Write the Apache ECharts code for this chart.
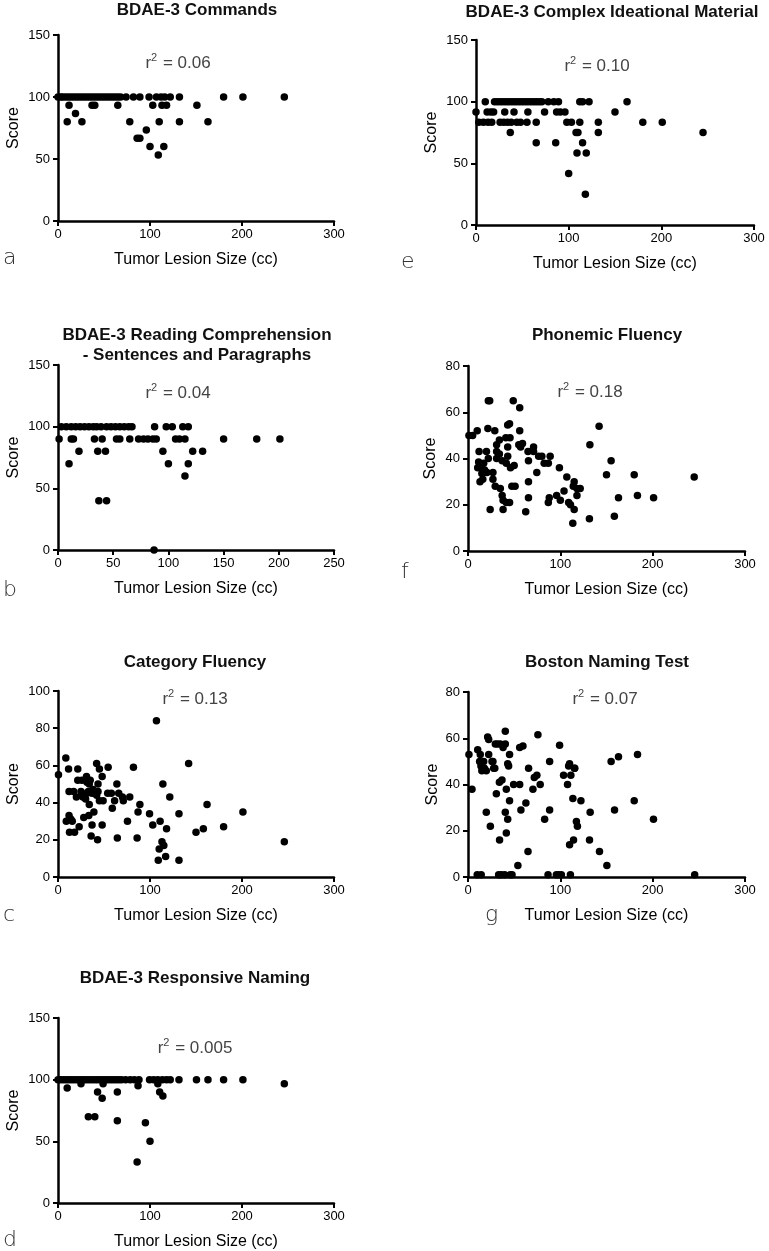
<!DOCTYPE html>
<html>
<head>
<meta charset="utf-8">
<title>Tumor lesion size vs language scores</title>
<script src="https://cdn.jsdelivr.net/npm/echarts@6/dist/echarts.min.js"></script>
<style>
  html, body { margin: 0; padding: 0; background: #fff; }
  #chart { width: 769px; height: 1251px; }
</style>
</head>
<body>
<div id="chart"></div>
<script>
// a - BDAE-3 Commands
const cmdSize = [0, 3, 5, 8, 11, 14, 17, 20, 23, 26, 29, 32, 35, 38, 41, 44, 47, 50, 53, 56, 59, 62, 65, 68,
  74, 82, 89, 99, 107, 112, 116, 122, 132, 180, 201, 246,
  12, 37, 40, 65, 103, 113, 118, 151,
  19,
  10, 26, 78, 110, 132, 163,
  96, 86, 89, 100, 115, 109];
const cmdScore = [100, 100, 100, 100, 100, 100, 100, 100, 100, 100, 100, 100, 100, 100, 100, 100, 100, 100, 100, 100, 100, 100, 100, 100,
  100, 100, 100, 100, 100, 100, 100, 100, 100, 100, 100, 100,
  93.3, 93.3, 93.3, 93.3, 93.3, 93.3, 93.3, 93.3,
  86.7,
  80, 80, 80, 80, 80, 80,
  73.3, 66.7, 66.7, 60, 60, 53.3];

// e - BDAE-3 Complex Ideational Material
const cimSize = [10, 20, 23, 26, 29, 32, 35, 38, 41, 44, 47, 50, 53, 56, 59, 62, 65, 68, 71, 78, 84, 89, 112, 115, 122, 163,
  0, 12, 16, 19, 31, 41, 56, 74, 87, 91, 96, 150,
  3, 8, 13, 17, 26, 30, 34, 38, 44, 48, 55, 65, 98, 103, 112, 132, 180, 201,
  37, 108, 110, 132, 245,
  65, 86, 115,
  109, 119,
  100, 118];
const cimScore = [100, 100, 100, 100, 100, 100, 100, 100, 100, 100, 100, 100, 100, 100, 100, 100, 100, 100, 100, 100, 100, 100, 100, 100, 100, 100,
  91.7, 91.7, 91.7, 91.7, 91.7, 91.7, 91.7, 91.7, 91.7, 91.7, 91.7, 91.7,
  83.3, 83.3, 83.3, 83.3, 83.3, 83.3, 83.3, 83.3, 83.3, 83.3, 83.3, 83.3, 83.3, 83.3, 83.3, 83.3, 83.3, 83.3,
  75, 75, 75, 75, 75,
  66.7, 66.7, 66.7,
  58.3, 58.3,
  41.7, 25];

// b - BDAE-3 Reading Comprehension
const readSize = [3, 7.5, 12, 16, 20, 24, 28, 32, 35, 39, 44, 48, 52, 56, 60, 64, 67, 87.5, 98, 103.5, 113, 118,
  1, 12, 14, 33, 40, 53, 56, 65, 73, 77.5, 81.5, 86, 89, 106.5, 110, 115, 150, 180, 201,
  19, 36, 43, 95, 122, 131,
  10, 100, 118,
  115,
  37, 44,
  87];
const readScore = [100, 100, 100, 100, 100, 100, 100, 100, 100, 100, 100, 100, 100, 100, 100, 100, 100, 100, 100, 100, 100, 100,
  90, 90, 90, 90, 90, 90, 90, 90, 90, 90, 90, 90, 90, 90, 90, 90, 90, 90, 90,
  80, 80, 80, 80, 80, 80,
  70, 70, 70,
  60,
  40, 40,
  0];

// f - Phonemic Fluency
const phonSize = [1, 5, 10, 22, 23.5, 21.5, 29, 49, 56, 56, 43, 45,
  31, 34, 41, 45.5, 55, 59, 57, 43,
  12, 20, 31, 34, 22, 31, 37, 43, 41.5, 46, 50,
  11.5, 17, 10.5, 15, 20.5, 27, 13, 27, 29.5, 35, 37, 41.5, 45, 47.5, 51, 24, 38, 62.5,
  65, 71, 71, 76.5, 80, 65.5, 74.5, 65.5, 65.5, 82.5, 87, 89,
  87, 88, 96, 100, 99, 104, 107, 109, 111, 115, 114, 115, 113.5, 118, 121.5, 118,
  131.5, 132, 142, 155, 150, 158.5, 163, 180, 183.5, 201, 245,
  18, 14, 38, 16];
const phonScore = [50, 50, 52, 65, 65, 53, 52, 65, 62, 52, 54.5, 55,
  46, 48, 49, 49, 46, 46.5, 45, 45,
  43, 43, 43, 42, 40, 40, 39, 41, 38, 36, 37,
  38.5, 38, 36, 33.5, 34, 34, 30, 31, 28, 27, 24, 21, 21, 28, 28, 18, 18, 17,
  43, 45, 43, 41, 41, 39, 34, 30, 23, 38, 38, 41,
  21, 23, 24, 22, 36, 26, 32, 21, 20, 30, 28, 18, 12, 24, 27, 27,
  14, 46, 54, 39, 33, 15, 23, 33, 24, 23, 32,
  35, 37, 22, 31];

// c - Category Fluency
const catSize = [0.5, 8.5, 11.5, 21.5, 21.5, 12, 17, 20, 25, 27, 30, 31.5,
  31, 31.5, 35, 34, 28, 33.5, 39, 34, 37, 42, 43.5,
  42, 45, 48, 54.5, 43.5, 37, 36, 43, 48, 45, 49, 54, 58, 59,
  61.5, 64, 66, 70, 71, 78, 64.5, 75.5, 82, 89, 87, 86,
  99.5, 103, 111, 118, 107, 114, 121.5, 113, 115, 110, 117, 109, 131.5, 131.5,
  142, 150, 158, 162, 180, 201, 246,
  12, 9, 15.5, 12.5, 18, 23, 14, 26, 38, 40, 33];
const catScore = [55, 64, 58, 58, 52, 46, 46, 43, 46, 43, 42, 45,
  54, 51, 52, 50, 32, 33, 35, 39, 45, 44, 46,
  61, 58, 54, 59, 50, 28, 22, 20, 28, 41, 41, 45, 45, 37,
  41, 50, 45, 43, 41, 43, 21, 30, 59, 39, 35, 21,
  34, 28, 30, 26, 84, 50, 43, 19, 17, 15, 11, 9, 9, 34,
  61, 24, 26, 39, 27, 35, 19,
  33, 30, 30, 24, 24, 27, 31, 52, 47, 46, 46];

// g - Boston Naming Test
const bntSize = [1, 4.3, 10.5, 13.3, 12.6, 15, 17.7, 19.8, 21.3, 22.4, 22.4, 27, 29, 29.6, 32, 35, 38, 40.4, 40.4, 43, 44, 45,
  34, 36.8, 30.7, 41.5, 49.4, 56, 56, 59.5, 65.6, 70.3, 71.8, 74.6, 75.7, 78.2,
  19.8, 24.2, 40.4, 45, 43, 34.2, 41.5, 57.3, 62.7, 65, 54,
  83, 88.4, 88.4, 99.2, 103.5, 107.8, 110, 111.4, 113.6, 115.4, 122.3, 117.4, 118.5, 114.3, 110,
  132.3, 131.6, 142.4, 150.4, 155, 163, 158.7, 180, 183.6, 200.9,
  26, 27.8, 14, 17, 109, 115.5,
  10, 14.3, 33.2, 36, 39.7, 45.8, 47.7, 86.7, 95.7, 98.3, 101.1, 110.9, 245.5];
const bntScore = [53, 38, 55, 53, 50, 46, 47, 46, 60.5, 59.5, 53, 50, 47, 57.5, 57.5, 57.5, 56, 57.5, 63, 49, 48, 53,
  41, 42, 36, 38, 40, 40, 56, 56.7, 47, 38, 43, 44, 61.5, 40,
  28, 22, 28, 33, 25, 16, 19, 29, 32, 11, 5,
  25, 29, 50, 57, 44, 40, 49, 44, 34, 47, 33, 24, 22, 16, 14,
  28, 16, 11, 5, 50, 52, 29, 33, 53, 25,
  50, 47, 48, 50, 48, 47,
  1, 1, 1, 1, 1, 1, 1, 1, 1, 1, 1, 1, 1];

// d - BDAE-3 Responsive Naming
const rnSize = [0, 3, 6, 9, 12, 15, 18, 21, 24, 27, 30, 33, 36, 39, 42, 45, 48, 51, 54, 57, 60, 63, 66, 69,
  73.5, 78.5, 83, 88, 99.5, 104, 108.5, 113.5, 118, 122, 131.5, 150.5, 163, 180, 201,
  25, 49, 108.5, 246,
  87, 10,
  43, 64.5, 110.5,
  114, 48,
  33, 40, 64.5, 95, 100, 86];
const rnScore = [100, 100, 100, 100, 100, 100, 100, 100, 100, 100, 100, 100, 100, 100, 100, 100, 100, 100, 100, 100, 100, 100, 100, 100,
  100, 100, 100, 100, 100, 100, 100, 100, 100, 100, 100, 100, 100, 100, 100,
  96.7, 96.7, 96.7, 96.7,
  95, 93.3,
  90, 90, 90,
  86.7, 85,
  70, 70, 66.7, 65, 50, 33.3];

const titles = ['BDAE-3 Commands', 'BDAE-3 Complex Ideational Material',
  'BDAE-3 Reading Comprehension\n- Sentences and Paragraphs', 'Phonemic Fluency',
  'Category Fluency', 'Boston Naming Test', 'BDAE-3 Responsive Naming'];
const rSquared = ['0.06', '0.10', '0.04', '0.18', '0.13', '0.07', '0.005'];
const letters = ['a', 'e', 'b', 'f', 'c', 'g', 'd'];

const FONT = 'Liberation Sans, Arial, sans-serif';

// layout: grid box, axis ranges, text anchors
const panels = [
  { xs: cmdSize, ys: cmdScore, box: [58, 35, 276, 186], xMax: 300, xStep: 100, yMax: 150, yStep: 50, title: [197, 10], r2: [178, 62], letter: [3, 258], yGap: 36 },
  { xs: cimSize, ys: cimScore, box: [476, 40, 278, 185], xMax: 300, xStep: 100, yMax: 150, yStep: 50, title: [612, 12], r2: [597, 65], letter: [401, 262], yGap: 36 },
  { xs: readSize, ys: readScore, box: [58, 365, 276, 185], xMax: 250, xStep: 50, yMax: 150, yStep: 50, title: [197, 345], r2: [178, 392], letter: [3, 590], yGap: 36 },
  { xs: phonSize, ys: phonScore, box: [468, 366, 277, 185], xMax: 300, xStep: 100, yMax: 80, yStep: 20, title: [607, 335], r2: [590, 391], letter: [401, 572], yGap: 29 },
  { xs: catSize, ys: catScore, box: [58, 691, 276, 186], xMax: 300, xStep: 100, yMax: 100, yStep: 20, title: [195, 662], r2: [195, 698], letter: [3, 915], yGap: 36 },
  { xs: bntSize, ys: bntScore, box: [468, 692, 277, 185], xMax: 300, xStep: 100, yMax: 80, yStep: 20, title: [607, 662], r2: [605, 698], letter: [485, 915], yGap: 27 },
  { xs: rnSize, ys: rnScore, box: [58, 1018, 276, 185], xMax: 300, xStep: 100, yMax: 150, yStep: 50, title: [195, 978], r2: [195, 1047], letter: [3, 1240], yGap: 36 },
];

const axisCommon = {
  axisLine: { lineStyle: { color: '#000', width: 2.5 } },
  axisTick: { show: true, inside: false, length: 5, lineStyle: { color: '#000', width: 2 } },
  axisLabel: { color: '#000', fontSize: 13, fontFamily: FONT },
  splitLine: { show: false },
  nameTextStyle: { color: '#000', fontSize: 16, fontFamily: FONT },
};

const grid = [];
const xAxis = [];
const yAxis = [];
const series = [];
const graphic = [];

panels.forEach((p, i) => {
  grid.push({ left: p.box[0], top: p.box[1], width: p.box[2], height: p.box[3], containLabel: false });
  xAxis.push(Object.assign({}, axisCommon, {
    type: 'value', gridIndex: i, min: 0, max: p.xMax, interval: p.xStep,
    name: 'Tumor Lesion Size (cc)', nameLocation: 'middle', nameGap: 31,
    axisLabel: Object.assign({}, axisCommon.axisLabel, { margin: 7 }),
  }));
  yAxis.push(Object.assign({}, axisCommon, {
    type: 'value', gridIndex: i, min: 0, max: p.yMax, interval: p.yStep,
    name: 'Score', nameLocation: 'middle', nameGap: p.yGap,
    axisLabel: Object.assign({}, axisCommon.axisLabel, { margin: 8 }),
  }));
  series.push({
    type: 'scatter',
    xAxisIndex: i,
    yAxisIndex: i,
    symbol: 'circle',
    symbolSize: 7.5,
    clip: false,
    itemStyle: { color: '#000', opacity: 1 },
    data: p.xs.map((v, k) => [v, p.ys[k]]),
  });
  graphic.push({
    type: 'text', x: p.title[0], y: p.title[1],
    style: { text: titles[i], fill: '#111', fontSize: 17, fontWeight: 'bold', fontFamily: FONT, align: 'center', verticalAlign: 'middle', lineHeight: 20 },
  });
  graphic.push({
    type: 'text', x: p.r2[0], y: p.r2[1],
    style: {
      text: '{b|r}{s|2}{b| = ' + rSquared[i] + '}',
      align: 'center', verticalAlign: 'middle',
      rich: {
        b: { fill: '#444', fontSize: 17, fontFamily: FONT, lineHeight: 20, verticalAlign: 'bottom' },
        s: { fill: '#444', fontSize: 11, fontFamily: FONT, lineHeight: 20, verticalAlign: 'top', padding: [0, 1, 0, 0] },
      },
    },
  });
  graphic.push({
    type: 'text', x: p.letter[0], y: p.letter[1],
    style: { text: letters[i], fill: '#333', fontSize: 22, fontFamily: 'DejaVu Sans, sans-serif', fontWeight: 'lighter', align: 'left', verticalAlign: 'middle' },
  });
});

const myChart = echarts.init(document.getElementById('chart'));
myChart.setOption({
  backgroundColor: '#fff',
  animation: false,
  grid,
  xAxis,
  yAxis,
  series,
  graphic,
});
</script>
</body>
</html>
